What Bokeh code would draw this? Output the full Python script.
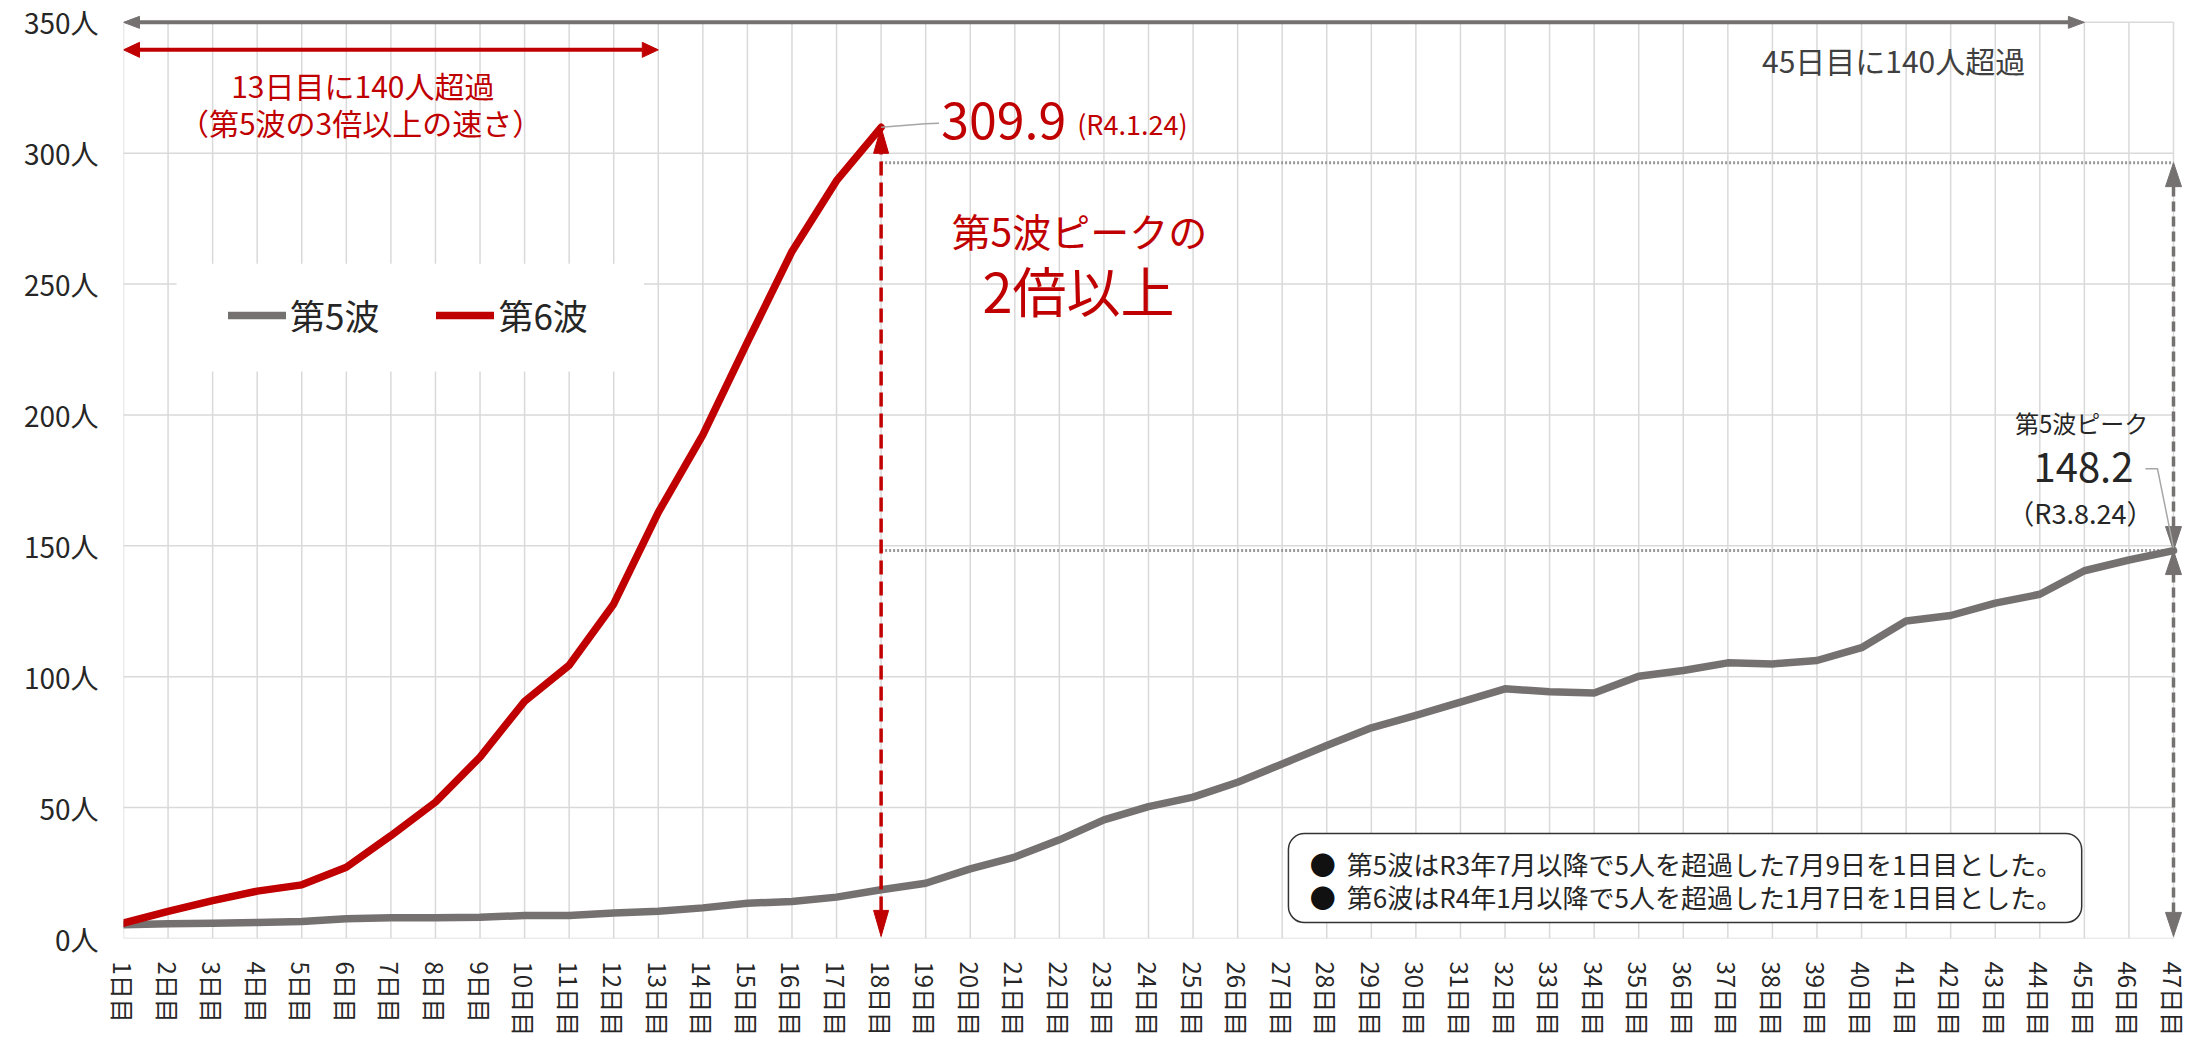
import math
from bokeh.plotting import figure
from bokeh.models import Range1d, FixedTicker, Label, BoxAnnotation, Legend, LegendItem
from bokeh.embed import file_html
from bokeh.resources import INLINE

# ---------------- data ----------------
days = list(range(1, 48))
day_labels = [f"{d}日目" for d in days]
wave5 = [5.3, 5.6, 5.8, 6.1, 6.5, 7.5, 7.9, 7.9, 8.1, 8.8, 8.8, 9.7, 10.4, 11.7, 13.5,
         14.1, 15.8, 18.6, 21.1, 26.6, 31.1, 37.7, 45.3, 50.4, 54.0, 59.7, 66.7, 73.7,
         80.5, 85.2, 90.3, 95.4, 94.3, 93.8, 100.2, 102.4, 105.3, 104.9, 106.2, 111.1,
         121.3, 123.4, 128.1, 131.5, 140.5, 144.6, 148.2]
wave6 = [5.9, 10.4, 14.5, 18.1, 20.5, 27.2, 39.3, 52.1, 69.3, 90.6, 104.4, 127.8,
         162.8, 192.4, 227.8, 262.5, 289.5, 309.9]
days6 = days[:len(wave6)]
y_ticks = [0, 50, 100, 150, 200, 250, 300, 350]
y_tick_labels = [f"{v}人" for v in y_ticks]

peak5 = wave5[-1]          # 148.2
peak6 = wave6[-1]          # 309.9
peak5_day = days[-1]       # 47
peak6_day = days6[-1]      # 18
cross5_day = 45            # 45日目に140人超過
cross6_day = 13            # 13日目に140人超過

FONT = "Noto Sans CJK JP"
RED = "#C00000"
GRAY = "#767171"
GRID = "#D9D9D9"
DARK = "#262626"

PX_DAY = 2050 / 46
EXTRA_R = 14
X0, X1 = 1, 47 + EXTRA_R / PX_DAY
FW = 2050 + EXTRA_R
FH = 924
Y0, Y1 = 0, 353
PX_VAL = FH / (Y1 - Y0)

p = figure(frame_width=FW, frame_height=FH, x_range=Range1d(X0, X1), y_range=Range1d(Y0, Y1),
           output_backend="svg", toolbar_location=None,
           min_border_left=123, min_border_right=11, min_border_top=14, min_border_bottom=98)
p.outline_line_color = None
p.background_fill_color = "white"
p.border_fill_color = "white"

# grid (drawn as marks limited to day 1..47 and 0..350)
p.xgrid.visible = False
p.ygrid.visible = False
p.segment(x0=days, y0=[y_ticks[0]] * len(days), x1=days, y1=[y_ticks[-1]] * len(days),
          line_color=GRID, line_width=1.5)
p.segment(x0=[days[0]] * len(y_ticks), y0=y_ticks, x1=[days[-1]] * len(y_ticks), y1=y_ticks,
          line_color=GRID, line_width=1.5)

# axes
p.yaxis.ticker = FixedTicker(ticks=y_ticks)
p.yaxis.major_label_overrides = dict(zip(y_ticks, y_tick_labels))
p.xaxis.ticker = FixedTicker(ticks=days)
p.xaxis.major_label_overrides = dict(zip(days, day_labels))
p.xaxis.major_label_orientation = "vertical"
for ax in (p.xaxis, p.yaxis):
    ax.axis_line_color = None
    ax.major_tick_line_color = None
    ax.minor_tick_line_color = None
    ax.major_tick_out = 0
    ax.major_tick_in = 0
    ax.minor_tick_out = 0
    ax.major_label_text_font = FONT
    ax.major_label_text_color = DARK
    ax.major_label_standoff = 25
p.yaxis.major_label_text_font_size = "28px"
p.xaxis.major_label_text_font_size = "24px"
p.xaxis.major_label_standoff = 23

# dotted reference lines (peak of wave 5 and its double)
p.segment(x0=[peak6_day, peak6_day], y0=[2 * peak5, peak5], x1=[peak5_day, peak5_day],
          y1=[2 * peak5, peak5], line_color="#9A9A9A", line_width=3, line_dash="2 2")

# series
r5 = p.line(days, wave5, line_color=GRAY, line_width=7.5, line_join="round", line_cap="round")
r6 = p.line(days6, wave6, line_color=RED, line_width=7.5, line_join="round", line_cap="round")


def head(xt, yt, ux, uy, L, W):
    """triangle arrow head, tip at data (xt, yt), direction (ux, uy) in screen px (y up)."""
    bx = xt - ux * L / PX_DAY
    by = yt - uy * L / PX_VAL
    px_, py_ = -uy, ux
    return ([xt, bx + px_ * W / PX_DAY, bx - px_ * W / PX_DAY],
            [yt, by + py_ * W / PX_VAL, by - py_ * W / PX_VAL])


def h_arrow(x0, x1, y, color, lw, L, W):
    hs = [head(x0, y, -1, 0, L, W), head(x1, y, 1, 0, L, W)]
    p.segment(x0=[x0 + L / PX_DAY], y0=[y], x1=[x1 - L / PX_DAY], y1=[y],
              line_color=color, line_width=lw)
    p.patches([h[0] for h in hs], [h[1] for h in hs], fill_color=color, line_color=color, line_width=1)


def v_arrow(x, y0, y1, color, lw, L, W, dash):
    hs = [head(x, y0, 0, -1, L, W), head(x, y1, 0, 1, L, W)]
    p.segment(x0=[x], y0=[y0 + L / PX_VAL], x1=[x], y1=[y1 - L / PX_VAL],
              line_color=color, line_width=lw, line_dash=dash)
    p.patches([h[0] for h in hs], [h[1] for h in hs], fill_color=color, line_color=color, line_width=1)


h_arrow(days[0], cross5_day, 350, GRAY, 4, 16, 6)
h_arrow(days[0], cross6_day, 339.5, RED, 4, 16, 7.5)
v_arrow(peak6_day, 0.8, peak6, RED, 3.5, 26, 7.5, "14 7")
v_arrow(peak5_day, peak5, 2 * peak5, GRAY, 3.5, 24, 8, "10 5")
v_arrow(peak5_day, 0.8, peak5, GRAY, 3.5, 24, 8, "10 5")

# leader lines
p.line([peak6_day, 18.99, 19.3], [peak6, 311.3, 311.5], line_color="#A6A6A6", line_width=1.5)
p.line([46.37, 46.64, peak5_day], [179.5, 179.5, peak5 + 1], line_color="#A6A6A6", line_width=1.5)

# legend box + legend
p.add_layout(BoxAnnotation(left=2.19, right=12.68, top=257.8, bottom=216.6,
                           fill_color="white", fill_alpha=1, line_color=None, level="annotation"))
legend = Legend(items=[LegendItem(label="第5波", renderers=[r5]), LegendItem(label="第6波", renderers=[r6])],
                orientation="horizontal", location=(105, 598),
                label_text_font=FONT, label_text_font_size="35px", label_text_color=DARK,
                glyph_width=58, glyph_height=40, label_height=40, label_standoff=4, spacing=57,
                padding=0, margin=0, background_fill_alpha=0, border_line_color=None)
p.add_layout(legend, "center")

# footnote box
p.add_layout(BoxAnnotation(left=27.14, right=44.94, top=40.1, bottom=6.1, fill_color="white", fill_alpha=1,
                           line_color="#333333", line_alpha=1, line_width=1.5, border_radius=16))


def lab(x, y, text, size, color, align="center", baseline="middle"):
    p.add_layout(Label(x=x, y=y, text=text, text_font=FONT, text_font_size=size, text_color=color,
                       text_align=align, text_baseline=baseline))


lab(6.37, 325.9, "13日目に140人超過", "30px", RED)
lab(6.32, 311.8, "（第5波の3倍以上の速さ）", "30px", RED)
lab(40.72, 335.5, "45日目に140人超過", "30px", "#404040")
lab(19.35, 312.6, f"{peak6}", "50px", RED, align="left")
lab(22.4, 311.4, "(R4.1.24)", "27px", RED, align="left")
lab(22.45, 270.5, "第5波ピークの", "39px", RED)
lab(22.43, 248.0, "2倍以上", "54px", RED)
lab(44.94, 197.2, "第5波ピーク", "24px", DARK)
lab(44.98, 180.0, f"{peak5}", "40px", DARK)
lab(44.91, 162.8, "（R3.8.24）", "27px", DARK)
lab(-0.28, 28.3, "(R3.7.9)", "28px", "#404040")
lab(-0.28, 16.4, "(R4.1.7)", "28px", RED)
lab(27.91, 28.7, "●", "26px", "#111111")
lab(27.91, 16.0, "●", "26px", "#111111")
lab(28.45, 28.7, "第5波はR3年7月以降で5人を超過した7月9日を1日目とした。", "26px", DARK, align="left")
lab(28.45, 16.0, "第6波はR4年1月以降で5人を超過した1月7日を1日目とした。", "26px", DARK, align="left")

open("out.html", "w").write(file_html(p, INLINE))
